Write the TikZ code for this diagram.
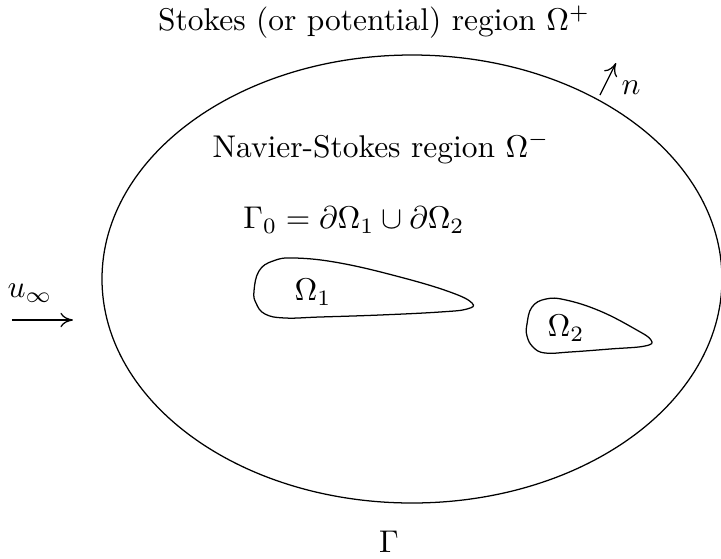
\documentclass[tikz,border=0pt]{standalone}
\usetikzlibrary{arrows.meta}
\begin{document}
\begin{tikzpicture}[x=0.318pt,y=-0.318pt,
  lbl/.style={inner sep=0pt},
  bdry/.style={line width=0.4pt},
  arr/.style={-{To[length=4pt,width=4.6pt]}, line width=0.4pt}]
\useasboundingbox (0,0) rectangle (721,558);
\node[lbl] (top) at (374,22) {Stokes (or potential) region $\Omega^+$};
\draw[bdry] (412,279) ellipse [x radius=310, y radius=224];
\coordinate (nfrom) at (600,95);
\coordinate (nto) at (616,63);
\draw[arr] (nfrom) -- (nto);
\node[lbl] (n) at (631,88) {$n$};
\node[lbl] (ns) at (381,148) {Navier-Stokes region $\Omega^-$};
\node[lbl] (g0) at (354,220) {$\Gamma_0=\partial\Omega_1\cup\partial\Omega_2$};
\node[lbl] (uinf) at (30,293) {$u_\infty$};
\coordinate (ufrom) at (12,320);
\coordinate (uto) at (73,320);
\draw[arr] (ufrom) -- (uto);
\draw[bdry] plot[smooth cycle, tension=0.7] coordinates {(254,291) (259,271) (273,261) (295,258) (340,263) (400,277) (450,292) (472,303) (467,309) (440,312) (380,315) (320,317) (285,318) (265,314) (256,303)};
\node[lbl] (o1) at (313,292) {$\Omega_1$};
\draw[bdry] plot[smooth cycle, tension=0.7] coordinates {(527,324) (532,307) (546,299) (566,300) (600,311) (635,329) (651,340) (645,346) (610,349) (570,352) (545,353) (533,347) (527,336)};
\node[lbl] (o2) at (566,328) {$\Omega_2$};
\node[lbl] (gam) at (389,542) {$\Gamma$};
\end{tikzpicture}
\end{document}
